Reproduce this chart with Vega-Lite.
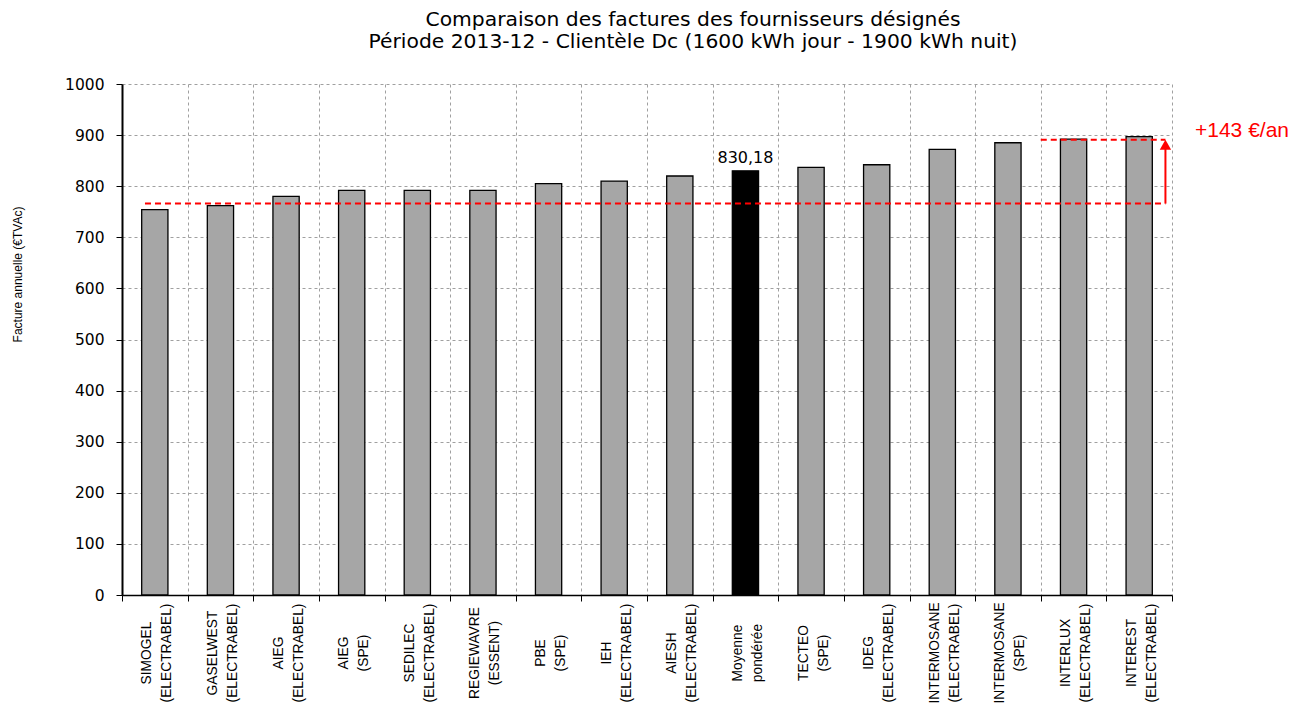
{
  "$schema": "https://vega.github.io/schema/vega-lite/v6.json",
  "width": 1050,
  "height": 511,
  "autosize": {"type": "none"},
  "padding": {"left": 122, "top": 84, "right": 122, "bottom": 108},
  "background": "white",
  "config": {"view": {"stroke": null}, "font": "Liberation Sans"},
  "title": {
    "text": ["Comparaison des factures des fournisseurs désignés", "Période 2013-12 - Clientèle Dc (1600 kWh jour - 1900 kWh nuit)"],
    "font": "DejaVu Sans",
    "fontSize": 20.3,
    "fontWeight": "normal",
    "color": "black",
    "lineHeight": 22,
    "offset": 25,
    "dx": 46,
    "anchor": "middle"
  },
  "datasets": {
    "bills": [
      {"fournisseur": "SIMOGEL|(ELECTRABEL)", "facture": 754, "type": "fournisseur"},
      {"fournisseur": "GASELWEST|(ELECTRABEL)", "facture": 762, "type": "fournisseur"},
      {"fournisseur": "AIEG|(ELECTRABEL)", "facture": 780, "type": "fournisseur"},
      {"fournisseur": "AIEG|(SPE)", "facture": 792, "type": "fournisseur"},
      {"fournisseur": "SEDILEC|(ELECTRABEL)", "facture": 792, "type": "fournisseur"},
      {"fournisseur": "REGIEWAVRE|(ESSENT)", "facture": 792, "type": "fournisseur"},
      {"fournisseur": "PBE|(SPE)", "facture": 805, "type": "fournisseur"},
      {"fournisseur": "IEH|(ELECTRABEL)", "facture": 810, "type": "fournisseur"},
      {"fournisseur": "AIESH|(ELECTRABEL)", "facture": 820, "type": "fournisseur"},
      {"fournisseur": "Moyenne|pondérée", "facture": 830.18, "type": "moyenne", "etiquette": "830,18"},
      {"fournisseur": "TECTEO|(SPE)", "facture": 837, "type": "fournisseur"},
      {"fournisseur": "IDEG|(ELECTRABEL)", "facture": 842, "type": "fournisseur"},
      {"fournisseur": "INTERMOSANE|(ELECTRABEL)", "facture": 872, "type": "fournisseur"},
      {"fournisseur": "INTERMOSANE|(SPE)", "facture": 885, "type": "fournisseur"},
      {"fournisseur": "INTERLUX|(ELECTRABEL)", "facture": 892, "type": "fournisseur"},
      {"fournisseur": "INTEREST|(ELECTRABEL)", "facture": 897, "type": "fournisseur"}
    ],
    "ligne_base": [{"fournisseur": "SIMOGEL|(ELECTRABEL)", "fournisseur2": "INTEREST|(ELECTRABEL)", "facture": 766}],
    "ligne_max": [{"fournisseur": "INTERLUX|(ELECTRABEL)", "fournisseur2": "INTEREST|(ELECTRABEL)", "facture": 891}],
    "fleche": [{"fournisseur": "INTEREST|(ELECTRABEL)", "facture": 766, "facture2": 876}],
    "pointe": [{"fournisseur": "INTEREST|(ELECTRABEL)", "facture": 881}],
    "ecart": [{"fournisseur": "INTEREST|(ELECTRABEL)", "facture": 908, "texte": "+143 €/an"}]
  },
  "layer": [
    {
      "data": {"name": "bills"},
      "mark": {"type": "bar", "stroke": "black", "strokeWidth": 1.3, "width": {"band": 0.4}},
      "encoding": {
        "x": {
          "field": "fournisseur",
          "type": "nominal",
          "sort": null,
          "scale": {"paddingInner": 0, "paddingOuter": 0},
          "axis": {
            "title": null,
            "labelAngle": -90,
            "labelAlign": "center",
            "labelBaseline": "middle",
            "labelExpr": "indexof(datum.label, 'AIEG|(SPE)') >= 0 || indexof(datum.label, 'PBE|') >= 0 ? split('\u00a0\u00a0\u00a0\u00a0\u00a0\u00a0\u00a0\u00a0\u00a0\u00a0\u00a0\u00a0\u00a0\u00a0\u00a0\u00a0' + replace(datum.label, '|', '|\u00a0\u00a0\u00a0\u00a0\u00a0\u00a0\u00a0\u00a0\u00a0\u00a0\u00a0\u00a0\u00a0\u00a0\u00a0\u00a0'), '|') : (indexof(datum.label, 'Moyenne') >= 0 || indexof(datum.label, 'TECTEO') >= 0 ? split('\u00a0\u00a0\u00a0\u00a0\u00a0\u00a0\u00a0\u00a0\u00a0\u00a0\u00a0' + replace(datum.label, '|', '|\u00a0\u00a0\u00a0\u00a0\u00a0\u00a0\u00a0\u00a0\u00a0\u00a0\u00a0'), '|') : split(datum.label, '|'))",
            "labelFont": "Liberation Sans",
            "labelFontSize": 13.8,
            "labelLineHeight": 20,
            "labelColor": "black",
            "labelOverlap": false,
            "labelLimit": 0,
            "labelPadding": 51.5,
            "labelOffset": -8,
            "tickBand": "extent",
            "tickColor": "black",
            "tickSize": 6,
            "tickWidth": 1,
            "domainColor": "black",
            "domainWidth": 1.5,
            "grid": true,
            "gridColor": "#a0a0a0",
            "gridDash": [3, 3],
            "gridWidth": 1
          }
        },
        "y": {
          "field": "facture",
          "type": "quantitative",
          "scale": {"domain": [0, 1000], "nice": false},
          "axis": {
            "title": "Facture annuelle (€TVAc)",
            "titleFont": "Liberation Sans",
            "titleFontSize": 12,
            "titleFontWeight": "normal",
            "titleColor": "black",
            "titlePadding": 40,
            "titleY": 190,
            "format": "d",
            "values": [0, 100, 200, 300, 400, 500, 600, 700, 800, 900, 1000],
            "labelFont": "DejaVu Sans",
            "labelFontSize": 15.5,
            "labelColor": "black",
            "labelPadding": 12,
            "tickSize": 6,
            "tickColor": "black",
            "domainColor": "black",
            "domainWidth": 2,
            "grid": true,
            "gridColor": "#a0a0a0",
            "gridDash": [3, 3],
            "gridWidth": 1
          }
        },
        "color": {
          "field": "type",
          "type": "nominal",
          "scale": {"domain": ["fournisseur", "moyenne"], "range": ["#a6a6a6", "#000000"]},
          "legend": null
        }
      }
    },
    {
      "data": {"name": "bills"},
      "transform": [{"filter": "datum.type === 'moyenne'"}],
      "mark": {"type": "text", "dy": -13, "fontSize": 16, "font": "DejaVu Sans", "color": "black"},
      "encoding": {
        "x": {"field": "fournisseur", "type": "nominal", "sort": null},
        "y": {"field": "facture", "type": "quantitative"},
        "text": {"field": "etiquette"}
      }
    },
    {
      "data": {"name": "ligne_base"},
      "mark": {"type": "rule", "color": "#ff0000", "strokeWidth": 2, "strokeDash": [6, 4]},
      "encoding": {
        "x": {"field": "fournisseur", "type": "nominal", "sort": null, "bandPosition": 0.35},
        "x2": {"field": "fournisseur2", "bandPosition": 0.9},
        "y": {"field": "facture", "type": "quantitative"}
      }
    },
    {
      "data": {"name": "ligne_max"},
      "mark": {"type": "rule", "color": "#ff0000", "strokeWidth": 2, "strokeDash": [6, 4]},
      "encoding": {
        "x": {"field": "fournisseur", "type": "nominal", "sort": null, "bandPosition": 0},
        "x2": {"field": "fournisseur2", "bandPosition": 0.9},
        "y": {"field": "facture", "type": "quantitative"}
      }
    },
    {
      "data": {"name": "fleche"},
      "mark": {"type": "rule", "color": "#ff0000", "strokeWidth": 2},
      "encoding": {
        "x": {"field": "fournisseur", "type": "nominal", "sort": null, "bandPosition": 0.9},
        "y": {"field": "facture", "type": "quantitative"},
        "y2": {"field": "facture2"}
      }
    },
    {
      "data": {"name": "pointe"},
      "mark": {"type": "point", "shape": "triangle-up", "filled": true, "color": "#ff0000", "size": 130, "opacity": 1},
      "encoding": {
        "x": {"field": "fournisseur", "type": "nominal", "sort": null, "bandPosition": 0.9},
        "y": {"field": "facture", "type": "quantitative"}
      }
    },
    {
      "data": {"name": "ecart"},
      "mark": {"type": "text", "align": "left", "baseline": "middle", "color": "#ff0000", "fontSize": 21, "font": "Liberation Sans", "dx": 23},
      "encoding": {
        "x": {"field": "fournisseur", "type": "nominal", "sort": null, "bandPosition": 1},
        "y": {"field": "facture", "type": "quantitative"},
        "text": {"field": "texte"}
      }
    }
  ]
}
